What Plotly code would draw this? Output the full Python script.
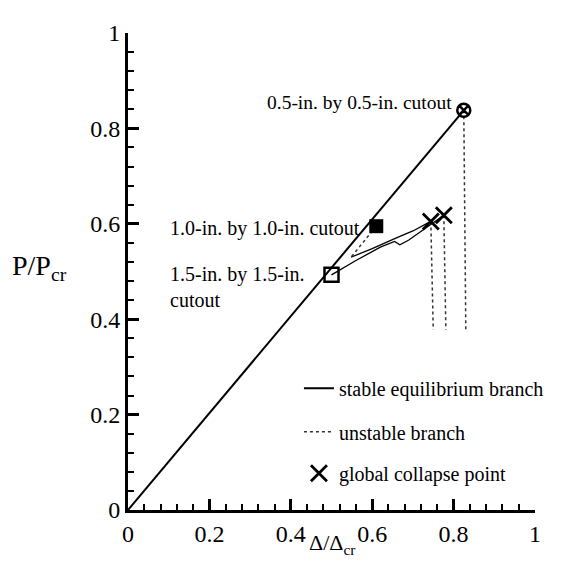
import plotly.graph_objects as go

# ---- data ----
main_x = [0.0, 0.825]
main_y = [0.0, 0.838]

# 1.0-in. cutout branch
b10_unstable_x = [0.610, 0.548]
b10_unstable_y = [0.595, 0.530]
b10_stable_x = [0.548, 0.600, 0.658, 0.700, 0.744]
b10_stable_y = [0.530, 0.548, 0.570, 0.585, 0.605]

# 1.5-in. cutout branch
b15_stable_x = [0.500, 0.560, 0.620, 0.655, 0.668, 0.690, 0.776]
b15_stable_y = [0.493, 0.523, 0.551, 0.563, 0.556, 0.566, 0.618]

# unstable post-collapse branches (dotted, near vertical)
drop1_x = [0.744, 0.750]
drop1_y = [0.605, 0.378]
drop2_x = [0.776, 0.781]
drop2_y = [0.618, 0.378]
drop3_x = [0.825, 0.830]
drop3_y = [0.838, 0.378]

# markers
circ_x, circ_y = [0.825], [0.838]
fsq_x, fsq_y = [0.610], [0.595]
osq_x, osq_y = [0.500], [0.493]
collapse_x = [0.744, 0.776]
collapse_y = [0.605, 0.618]

tick_vals = [0, 0.2, 0.4, 0.6, 0.8, 1]
tick_text = ["0", "0.2", "0.4", "0.6", "0.8", "1"]

FONT = "Liberation Serif"
BLACK = "black"
TXT = 20

fig = go.Figure()

fig.add_trace(go.Scatter(x=main_x, y=main_y, mode="lines",
                         line=dict(color=BLACK, width=2),
                         name="stable equilibrium branch", legend="legend"))
fig.add_trace(go.Scatter(x=b10_stable_x, y=b10_stable_y, mode="lines",
                         line=dict(color=BLACK, width=1.3), showlegend=False))
fig.add_trace(go.Scatter(x=b15_stable_x, y=b15_stable_y, mode="lines",
                         line=dict(color=BLACK, width=1.3), showlegend=False))

fig.add_trace(go.Scatter(x=b10_unstable_x, y=b10_unstable_y, mode="lines",
                         line=dict(color="#333333", width=1.5, dash="dot"),
                         name="unstable branch", legend="legend2"))
for dx, dy in [(drop1_x, drop1_y), (drop2_x, drop2_y), (drop3_x, drop3_y)]:
    fig.add_trace(go.Scatter(x=dx, y=dy, mode="lines",
                             line=dict(color="#333333", width=1.5, dash="dot"),
                             showlegend=False))

fig.add_trace(go.Scatter(x=circ_x, y=circ_y, mode="markers",
                         marker=dict(symbol="circle-x-open", size=13, color=BLACK,
                                     line=dict(width=2.5, color=BLACK)),
                         showlegend=False))
fig.add_trace(go.Scatter(x=fsq_x, y=fsq_y, mode="markers",
                         marker=dict(symbol="square", size=14, color=BLACK),
                         showlegend=False))
fig.add_trace(go.Scatter(x=osq_x, y=osq_y, mode="markers",
                         marker=dict(symbol="square-open", size=14, color=BLACK,
                                     line=dict(width=2.5, color=BLACK)),
                         showlegend=False))
fig.add_trace(go.Scatter(x=collapse_x, y=collapse_y, mode="markers",
                         marker=dict(symbol="x-thin", size=16, color=BLACK,
                                     line=dict(width=2.8, color=BLACK)),
                         name="global collapse point", legend="legend3"))

axis_common = dict(
    range=[0, 1], tickvals=tick_vals, ticktext=tick_text,
    ticks="inside", ticklen=11, tickwidth=2.5, tickcolor=BLACK,
    showline=True, linewidth=3, linecolor=BLACK, mirror=False,
    showgrid=False, zeroline=False, ticklabeloverflow="allow",
    tickfont=dict(family=FONT, size=24, color=BLACK),
    minor=dict(ticks="inside", ticklen=6, tickwidth=2, tickcolor=BLACK,
               dtick=0.04, tick0=0, showgrid=False),
)
fig.update_xaxes(**axis_common)
fig.update_yaxes(**axis_common)

leg_common = dict(font=dict(family=FONT, size=TXT, color=BLACK),
                  bgcolor="rgba(0,0,0,0)", borderwidth=0,
                  xanchor="left", yanchor="middle")

fig.update_layout(
    width=579, height=562,
    margin=dict(l=120, r=52, t=16, b=60),
    paper_bgcolor="white", plot_bgcolor="white",
    font=dict(family=FONT, color=BLACK),
    legend=dict(x=0.42, y=0.255, **leg_common),
    legend2=dict(x=0.42, y=0.164, **leg_common),
    legend3=dict(x=0.42, y=0.077, **leg_common),
    annotations=[
        dict(text="0.5-in. by 0.5-in. cutout", x=0.80, y=0.855, xref="x", yref="y",
             xanchor="right", yanchor="middle", showarrow=False,
             font=dict(family=FONT, size=19.5, color=BLACK)),
        dict(text="1.0-in. by 1.0-in. cutout", x=0.098, y=0.59, xref="x", yref="y",
             xanchor="left", yanchor="middle", showarrow=False,
             font=dict(family=FONT, size=TXT, color=BLACK)),
        dict(text="1.5-in. by 1.5-in.<br>cutout", x=0.098, y=0.467, xref="x", yref="y",
             xanchor="left", yanchor="middle", align="left", showarrow=False,
             font=dict(family=FONT, size=TXT, color=BLACK)),
        dict(text="P/P<sub>cr</sub>", x=-0.29, y=0.509, xref="paper", yref="paper",
             xanchor="left", yanchor="middle", showarrow=False,
             font=dict(family=FONT, size=28, color=BLACK)),
        dict(text="Δ/Δ<sub>cr</sub>", x=0.5, y=-0.104, xref="paper", yref="paper",
             xanchor="center", yanchor="bottom", showarrow=False,
             font=dict(family=FONT, size=22, color=BLACK)),
    ],
)

fig.write_html("out.html")
